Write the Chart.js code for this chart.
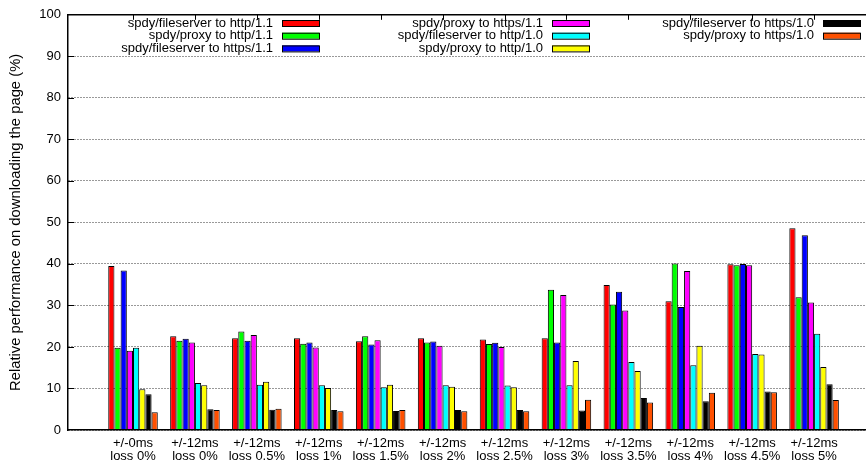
<!DOCTYPE html>
<html>
<head>
<meta charset="utf-8">
<title>spdy relative performance</title>
<script src="https://cdn.jsdelivr.net/npm/chart.js@4.4.1/dist/chart.umd.min.js"></script>
<style>
  html, body { margin: 0; padding: 0; background: #fff; overflow: hidden; }
  #chart { display: block; }
</style>
</head>
<body>
<canvas id="chart" width="880" height="468"></canvas>
<script>
// categories (two-line tick labels)
const delays = ['+/-0ms', '+/-12ms', '+/-12ms', '+/-12ms', '+/-12ms', '+/-12ms', '+/-12ms', '+/-12ms', '+/-12ms', '+/-12ms', '+/-12ms', '+/-12ms']
const losses = ['loss 0%', 'loss 0%', 'loss 0.5%', 'loss 1%', 'loss 1.5%', 'loss 2%', 'loss 2.5%', 'loss 3%', 'loss 3.5%', 'loss 4%', 'loss 4.5%', 'loss 5%']

// series values (%)
const fileserverHttp11 = [39.5, 22.6, 22.1, 22.1, 21.4, 22.1, 21.8, 22.1, 34.9, 31.0, 39.9, 48.6]
const proxyHttp11 = [19.8, 21.5, 23.7, 20.8, 22.6, 21.1, 20.7, 33.8, 30.2, 40.1, 39.7, 32.0]
const fileserverHttps11 = [38.4, 22.0, 21.5, 21.1, 20.6, 21.3, 21.0, 21.1, 33.3, 29.6, 40.0, 46.9]
const proxyHttps11 = [19.1, 21.1, 22.9, 19.9, 21.6, 20.3, 20.0, 32.5, 28.8, 38.3, 39.7, 30.7]
const fileserverHttp10 = [19.8, 11.3, 10.9, 10.8, 10.3, 10.8, 10.7, 10.8, 16.4, 15.6, 18.3, 23.2]
const proxyHttp10 = [9.8, 10.8, 11.6, 10.1, 10.9, 10.4, 10.3, 16.6, 14.2, 20.3, 18.2, 15.2]
const fileserverHttps10 = [8.6, 5.0, 4.9, 4.8, 4.6, 4.8, 4.8, 4.7, 7.7, 6.9, 9.3, 11.0]
const proxyHttps10 = [4.3, 4.8, 5.1, 4.5, 4.8, 4.5, 4.5, 7.3, 6.6, 9.0, 9.1, 7.2]

const seriesNames = [
  'spdy/fileserver to http/1.1', 'spdy/proxy to http/1.1', 'spdy/fileserver to https/1.1',
  'spdy/proxy to https/1.1', 'spdy/fileserver to http/1.0', 'spdy/proxy to http/1.0',
  'spdy/fileserver to https/1.0', 'spdy/proxy to https/1.0'
]
const seriesValues = [fileserverHttp11, proxyHttp11, fileserverHttps11, proxyHttps11,
  fileserverHttp10, proxyHttp10, fileserverHttps10, proxyHttps10]
const seriesColors = ['#ff0000', '#00ff00', '#0000ff', '#ff00ff', '#00ffff', '#ffff00', '#000000', '#ff5000']

const yTicks = [0, 10, 20, 30, 40, 50, 60, 70, 80, 90, 100]

const FONT = '"Liberation Sans", Arial, sans-serif'
Chart.defaults.font.family = FONT
Chart.defaults.font.size = 13
Chart.defaults.color = '#000'

// gnuplot style: inward tics on left/top and a key drawn in columns
const gnuplotFrame = {
  id: 'gnuplotFrame',
  afterDatasetsDraw(chart) {
    const { ctx, chartArea, scales } = chart
    ctx.save()
    ctx.strokeStyle = '#000'
    ctx.lineWidth = 1
    ctx.beginPath()
    yTicks.slice(1, -1).forEach(v => {
      const y = Math.round(scales.y.getPixelForValue(v)) + 0.5
      ctx.moveTo(chartArea.left, y)
      ctx.lineTo(chartArea.left + 6, y)
    })
    delays.forEach((d, i) => {
      const x = Math.round(scales.x2.getPixelForValue(i)) + 0.5
      ctx.moveTo(x, chartArea.top)
      ctx.lineTo(x, chartArea.top + 5)
    })
    ctx.stroke()
    ctx.restore()
  },
  afterDraw(chart, args, opts) {
    const ctx = chart.ctx
    ctx.save()
    ctx.font = '13px ' + FONT
    ctx.textAlign = 'right'
    ctx.textBaseline = 'middle'
    ctx.lineWidth = 1
    chart.data.datasets.forEach((ds, i) => {
      const bx = opts.boxLeft[Math.floor(i / 3)]
      const cy = opts.rowY[i % 3]
      ctx.fillStyle = '#000'
      ctx.fillText(ds.label, bx - 9, cy)
      ctx.fillStyle = ds.backgroundColor
      ctx.fillRect(bx, cy - 3, 37, 6)
      ctx.strokeStyle = '#000'
      ctx.strokeRect(bx + 0.5, cy - 2.5, 37, 6)
    })
    ctx.restore()
  }
}

new Chart(document.getElementById('chart'), {
  type: 'bar',
  data: {
    datasets: seriesValues.map((vals, k) => ({
      label: seriesNames[k],
      data: vals.map((v, i) => ({ x: i, y: v })),
      backgroundColor: seriesColors[k],
      borderColor: '#000',
      borderWidth: 1,
      barPercentage: 1,
      categoryPercentage: 0.8
    }))
  },
  options: {
    responsive: false,
    animation: false,
    devicePixelRatio: 1,
    layout: { padding: { right: 4 } },
    plugins: {
      legend: { display: false },
      tooltip: { enabled: false },
      gnuplotFrame: { boxLeft: [282, 552, 823], rowY: [23, 35.7, 48.4] }
    },
    scales: {
      x: {
        type: 'linear',
        position: 'bottom',
        offset: false,
        min: -1.05,
        max: 12,
        afterBuildTicks: s => { s.ticks = delays.map((d, i) => ({ value: i })) },
        afterFit: s => { s.height = 38 },
        grid: { display: false, drawTicks: false },
        border: { color: '#000', width: 1.5, z: 1 },
        ticks: {
          autoSkip: false,
          maxRotation: 0,
          padding: 7,
          font: { size: 13, lineHeight: 1.0 },
          callback: v => [delays[v], losses[v]]
        }
      },
      x2: {
        type: 'linear',
        position: 'top',
        offset: false,
        min: -1.05,
        max: 12,
        afterFit: s => { s.height = 12 },
        grid: { display: false, drawTicks: false },
        border: { color: '#000', width: 1.5, z: 1 },
        ticks: { display: false }
      },
      y: {
        min: 0,
        max: 100,
        afterBuildTicks: s => { s.ticks = yTicks.map(v => ({ value: v })) },
        afterFit: s => { s.width = 68 },
        grid: { color: '#333', lineWidth: 1, drawTicks: false },
        border: { color: '#000', width: 1.5, dash: [1, 2], z: 1 },
        ticks: { padding: 7 },
        title: {
          display: true,
          text: 'Relative performance on downloading the page (%)',
          font: { size: 14.8 },
          padding: { top: 6.6, bottom: 0 }
        }
      }
    }
  },
  plugins: [gnuplotFrame]
})
</script>
</body>
</html>
